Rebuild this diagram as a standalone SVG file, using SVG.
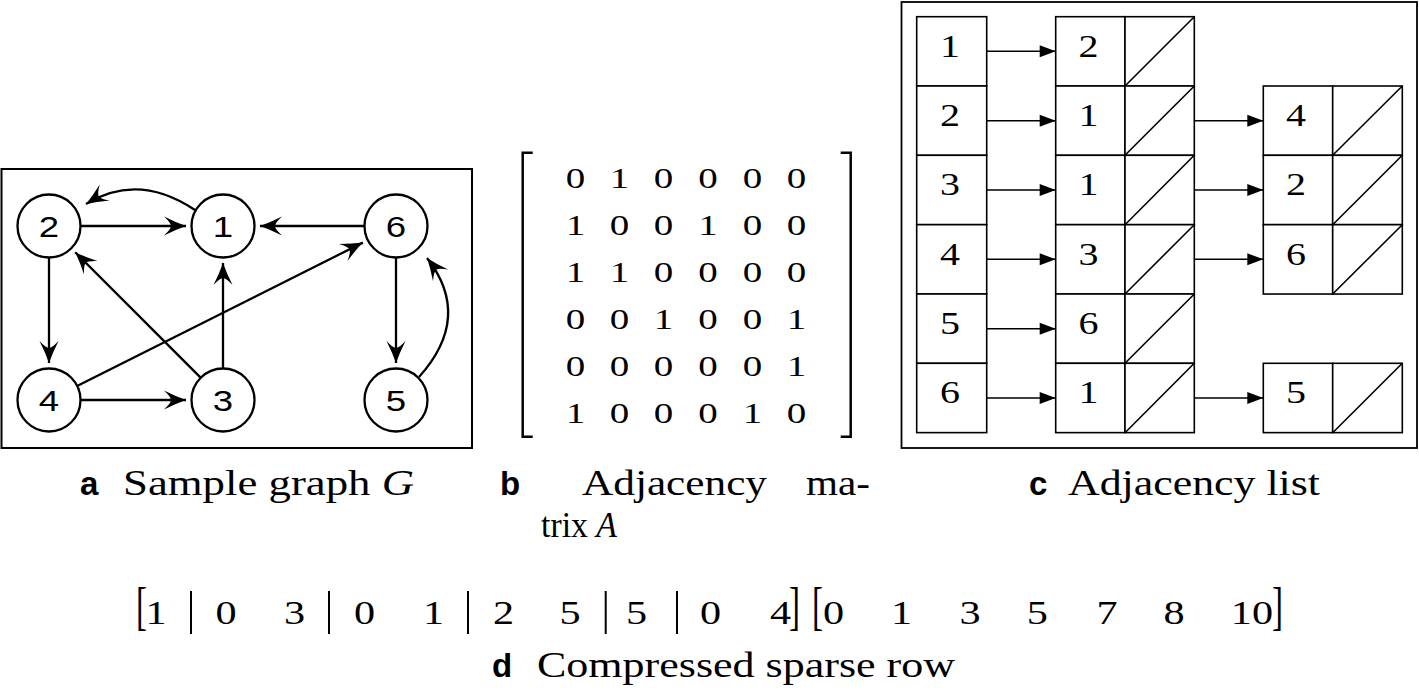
<svg xmlns="http://www.w3.org/2000/svg" width="1419" height="691" viewBox="0 0 1419 691">
<style>
.edge{fill:none;stroke:#000;stroke-width:2.3}
.node circle{fill:#fff;stroke:#000;stroke-width:2.3}
.nl{font-family:"Liberation Sans",Arial,sans-serif;font-size:30px;text-anchor:middle;fill:#000}
.m{font-family:"Liberation Serif","Times New Roman",serif;font-size:30px;text-anchor:middle;fill:#000}
.cell rect{fill:#fff;stroke:#000;stroke-width:1.6}
.cell line{stroke:#000;stroke-width:1.6}
.ct{font-family:"Liberation Serif","Times New Roman",serif;font-size:32px;text-anchor:middle;fill:#000}
.lk{fill:none;stroke:#000;stroke-width:1.6}
.cap{font-family:"Liberation Serif","Times New Roman",serif;font-size:35px;fill:#000}
.lbl{font-family:"Liberation Sans",Arial,sans-serif;font-weight:bold;font-size:33px;fill:#000}
.d{font-family:"Liberation Serif","Times New Roman",serif;font-size:33px;text-anchor:middle;fill:#000}
.dl{font-family:"Liberation Serif","Times New Roman",serif;font-size:33px;fill:#000}
.bar{stroke:#000;stroke-width:2}
.frame{fill:none;stroke:#000;stroke-width:2}
.br{fill:none;stroke:#000;stroke-width:2.5}
</style>
<defs>
<marker id="st" viewBox="-24 -11 26 22" refX="0" refY="0" markerWidth="26" markerHeight="22" markerUnits="userSpaceOnUse" orient="auto">
<path d="M0,0 Q-10,-3.5 -22,-9.5 Q-15,-3 -15,0 Q-15,3 -22,9.5 Q-10,3.5 0,0Z" fill="#000"/>
</marker>
<marker id="lt" viewBox="-17 -7 18 14" refX="0" refY="0" markerWidth="18" markerHeight="14" markerUnits="userSpaceOnUse" orient="auto">
<path d="M0,0 L-16,-6 L-16,6Z" fill="#000"/>
</marker>
</defs>

<!-- Panel a -->
<rect class="frame" x="1.5" y="169" width="470.5" height="279"/>
<g id="connectors-a">
<path class="edge" d="M81,226 H186" marker-end="url(#st)"/>
<path class="edge" d="M364,226 H260" marker-end="url(#st)"/>
<path class="edge" d="M49,258 V363" marker-end="url(#st)"/>
<path class="edge" d="M81,400 H186" marker-end="url(#st)"/>
<path class="edge" d="M223,368 V263" marker-end="url(#st)"/>
<path class="edge" d="M396,258 V363" marker-end="url(#st)"/>
<path class="edge" d="M200.4,377.4 L75.2,252.2" marker-end="url(#st)"/>
<path class="edge" d="M77.6,385.7 L362.9,242.6" marker-end="url(#st)"/>
<path class="edge" d="M195,210 Q138,172 86,204" marker-end="url(#st)"/>
<path class="edge" d="M419,377 Q473,317 427,258" marker-end="url(#st)"/>
</g>
<g id="n1" class="node"><circle cx="223" cy="226" r="31.5"/><text class="nl" transform="translate(223,237) scale(1.22,1)">1</text></g>
<g id="n2" class="node"><circle cx="49" cy="226" r="31.5"/><text class="nl" transform="translate(49,237) scale(1.22,1)">2</text></g>
<g id="n6" class="node"><circle cx="396" cy="226" r="31.5"/><text class="nl" transform="translate(396,237) scale(1.22,1)">6</text></g>
<g id="n4" class="node"><circle cx="49" cy="400" r="31.5"/><text class="nl" transform="translate(49,411) scale(1.22,1)">4</text></g>
<g id="n3" class="node"><circle cx="223" cy="400" r="31.5"/><text class="nl" transform="translate(223,411) scale(1.22,1)">3</text></g>
<g id="n5" class="node"><circle cx="396" cy="400" r="31.5"/><text class="nl" transform="translate(396,411) scale(1.22,1)">5</text></g>

<!-- Panel b -->
<g id="matrix">
<path class="br" d="M532.7,152.7 H522.7 V436.7 H532.7"/>
<path class="br" d="M840.7,152.7 H850.7 V436.7 H840.7"/>
<g transform="translate(0,188.3) scale(1.3,1)"><text class="m"><tspan x="442.7">0</tspan><tspan x="476.5">1</tspan><tspan x="510.4">0</tspan><tspan x="544.6">0</tspan><tspan x="578.8">0</tspan><tspan x="612.7">0</tspan></text></g>
<g transform="translate(0,235.3) scale(1.3,1)"><text class="m"><tspan x="442.7">1</tspan><tspan x="476.5">0</tspan><tspan x="510.4">0</tspan><tspan x="544.6">1</tspan><tspan x="578.8">0</tspan><tspan x="612.7">0</tspan></text></g>
<g transform="translate(0,282.3) scale(1.3,1)"><text class="m"><tspan x="442.7">1</tspan><tspan x="476.5">1</tspan><tspan x="510.4">0</tspan><tspan x="544.6">0</tspan><tspan x="578.8">0</tspan><tspan x="612.7">0</tspan></text></g>
<g transform="translate(0,329.3) scale(1.3,1)"><text class="m"><tspan x="442.7">0</tspan><tspan x="476.5">0</tspan><tspan x="510.4">1</tspan><tspan x="544.6">0</tspan><tspan x="578.8">0</tspan><tspan x="612.7">1</tspan></text></g>
<g transform="translate(0,376.3) scale(1.3,1)"><text class="m"><tspan x="442.7">0</tspan><tspan x="476.5">0</tspan><tspan x="510.4">0</tspan><tspan x="544.6">0</tspan><tspan x="578.8">0</tspan><tspan x="612.7">1</tspan></text></g>
<g transform="translate(0,423.3) scale(1.3,1)"><text class="m"><tspan x="442.7">1</tspan><tspan x="476.5">0</tspan><tspan x="510.4">0</tspan><tspan x="544.6">0</tspan><tspan x="578.8">1</tspan><tspan x="612.7">0</tspan></text></g>
</g>

<!-- Panel c -->
<rect x="901.5" y="2" width="515.5" height="446" fill="none" stroke="#000" stroke-width="1.8"/>
<g id="heads" class="cell">
<rect x="916.7" y="16.7" width="70" height="69.33"/><rect x="916.7" y="86" width="70" height="69.33"/><rect x="916.7" y="155.3" width="70" height="69.33"/><rect x="916.7" y="224.7" width="70" height="69.33"/><rect x="916.7" y="294" width="70" height="69.33"/><rect x="916.7" y="363.3" width="70" height="69.33"/>
<text class="ct" transform="translate(950,56.7) scale(1.25,1)">1</text>
<text class="ct" transform="translate(950,126) scale(1.25,1)">2</text>
<text class="ct" transform="translate(950,195.3) scale(1.25,1)">3</text>
<text class="ct" transform="translate(950,264.7) scale(1.25,1)">4</text>
<text class="ct" transform="translate(950,334) scale(1.25,1)">5</text>
<text class="ct" transform="translate(950,403.3) scale(1.25,1)">6</text>
</g>
<g id="list1" class="cell">
<rect x="1055.7" y="16.7" width="69.3" height="69.33"/><rect x="1125" y="16.7" width="69.3" height="69.33"/><line x1="1125" y1="86" x2="1194.3" y2="16.7"/>
<rect x="1055.7" y="86" width="69.3" height="69.33"/><rect x="1125" y="86" width="69.3" height="69.33"/><line x1="1125" y1="155.3" x2="1194.3" y2="86"/>
<rect x="1055.7" y="155.3" width="69.3" height="69.33"/><rect x="1125" y="155.3" width="69.3" height="69.33"/><line x1="1125" y1="224.7" x2="1194.3" y2="155.3"/>
<rect x="1055.7" y="224.7" width="69.3" height="69.33"/><rect x="1125" y="224.7" width="69.3" height="69.33"/><line x1="1125" y1="294" x2="1194.3" y2="224.7"/>
<rect x="1055.7" y="294" width="69.3" height="69.33"/><rect x="1125" y="294" width="69.3" height="69.33"/><line x1="1125" y1="363.3" x2="1194.3" y2="294"/>
<rect x="1055.7" y="363.3" width="69.3" height="69.33"/><rect x="1125" y="363.3" width="69.3" height="69.33"/><line x1="1125" y1="432.7" x2="1194.3" y2="363.3"/>
<text class="ct" transform="translate(1088.5,56.7) scale(1.25,1)">2</text>
<text class="ct" transform="translate(1088.5,126) scale(1.25,1)">1</text>
<text class="ct" transform="translate(1088.5,195.3) scale(1.25,1)">1</text>
<text class="ct" transform="translate(1088.5,264.7) scale(1.25,1)">3</text>
<text class="ct" transform="translate(1088.5,334) scale(1.25,1)">6</text>
<text class="ct" transform="translate(1088.5,403.3) scale(1.25,1)">1</text>
</g>
<g id="list2" class="cell">
<rect x="1263.3" y="86" width="69.4" height="69.33"/><rect x="1332.7" y="86" width="69.6" height="69.33"/><line x1="1332.7" y1="155.3" x2="1402.3" y2="86"/>
<rect x="1263.3" y="155.3" width="69.4" height="69.33"/><rect x="1332.7" y="155.3" width="69.6" height="69.33"/><line x1="1332.7" y1="224.7" x2="1402.3" y2="155.3"/>
<rect x="1263.3" y="224.7" width="69.4" height="69.33"/><rect x="1332.7" y="224.7" width="69.6" height="69.33"/><line x1="1332.7" y1="294" x2="1402.3" y2="224.7"/>
<rect x="1263.3" y="363.3" width="69.4" height="69.33"/><rect x="1332.7" y="363.3" width="69.6" height="69.33"/><line x1="1332.7" y1="432.7" x2="1402.3" y2="363.3"/>
<text class="ct" transform="translate(1296,126) scale(1.25,1)">4</text>
<text class="ct" transform="translate(1296,195.3) scale(1.25,1)">2</text>
<text class="ct" transform="translate(1296,264.7) scale(1.25,1)">6</text>
<text class="ct" transform="translate(1296,403.3) scale(1.25,1)">5</text>
</g>
<g id="connectors-c">
<path class="lk" d="M986.7,51.3 H1055.7" marker-end="url(#lt)"/>
<path class="lk" d="M986.7,120.7 H1055.7" marker-end="url(#lt)"/>
<path class="lk" d="M986.7,190 H1055.7" marker-end="url(#lt)"/>
<path class="lk" d="M986.7,259.3 H1055.7" marker-end="url(#lt)"/>
<path class="lk" d="M986.7,328.7 H1055.7" marker-end="url(#lt)"/>
<path class="lk" d="M986.7,398 H1055.7" marker-end="url(#lt)"/>
<path class="lk" d="M1194.3,120.7 H1263.3" marker-end="url(#lt)"/>
<path class="lk" d="M1194.3,190 H1263.3" marker-end="url(#lt)"/>
<path class="lk" d="M1194.3,259.3 H1263.3" marker-end="url(#lt)"/>
<path class="lk" d="M1194.3,398 H1263.3" marker-end="url(#lt)"/>
</g>

<!-- Captions -->
<g id="cap-a"><text class="lbl" x="80" y="495">a</text><text class="cap" x="123" y="495" textLength="291" lengthAdjust="spacingAndGlyphs">Sample graph <tspan font-style="italic">G</tspan></text></g>
<g id="cap-b"><text class="lbl" x="500" y="495">b</text><text class="cap" x="582" y="495" textLength="185" lengthAdjust="spacingAndGlyphs">Adjacency</text><text class="cap" x="806" y="495" textLength="64" lengthAdjust="spacingAndGlyphs">ma-</text><text class="cap" x="541" y="537" textLength="76" lengthAdjust="spacingAndGlyphs">trix <tspan font-style="italic">A</tspan></text></g>
<g id="cap-c"><text class="lbl" x="1029" y="495">c</text><text class="cap" x="1068" y="495" textLength="252" lengthAdjust="spacingAndGlyphs">Adjacency list</text></g>

<!-- Panel d -->
<g id="csr">
<text class="dl" transform="translate(136,624) scale(1,1.6)">[</text>
<g transform="translate(0,624) scale(1.28,1)"><text class="d"><tspan x="121.9">1</tspan><tspan x="176.6">0</tspan><tspan x="230.1">3</tspan><tspan x="284.8">0</tspan><tspan x="338.7">1</tspan><tspan x="393.4">2</tspan><tspan x="445.3">5</tspan><tspan x="497.3">5</tspan><tspan x="555.1">0</tspan><tspan x="609.8">4</tspan></text></g>
<line class="bar" x1="191" y1="591" x2="191" y2="634"/>
<line class="bar" x1="329" y1="591" x2="329" y2="634"/>
<line class="bar" x1="468" y1="591" x2="468" y2="634"/>
<line class="bar" x1="605.7" y1="591" x2="605.7" y2="634"/>
<line class="bar" x1="677" y1="591" x2="677" y2="634"/>
<text class="dl" transform="translate(789,624) scale(1,1.6)">]</text>
<text class="dl" transform="translate(812,624) scale(1,1.6)">[</text>
<g transform="translate(0,624) scale(1.28,1)"><text class="d"><tspan x="651.2">0</tspan><tspan x="704.3">1</tspan><tspan x="757.8">3</tspan><tspan x="810.5">5</tspan><tspan x="864.8">7</tspan><tspan x="917.2">8</tspan><tspan x="978.1">10</tspan></text></g>
<text class="dl" transform="translate(1272,624) scale(1,1.6)">]</text>
</g>
<g id="cap-d"><text class="lbl" x="492" y="677">d</text><text class="cap" x="537" y="677" textLength="418" lengthAdjust="spacingAndGlyphs">Compressed sparse row</text></g>
</svg>
